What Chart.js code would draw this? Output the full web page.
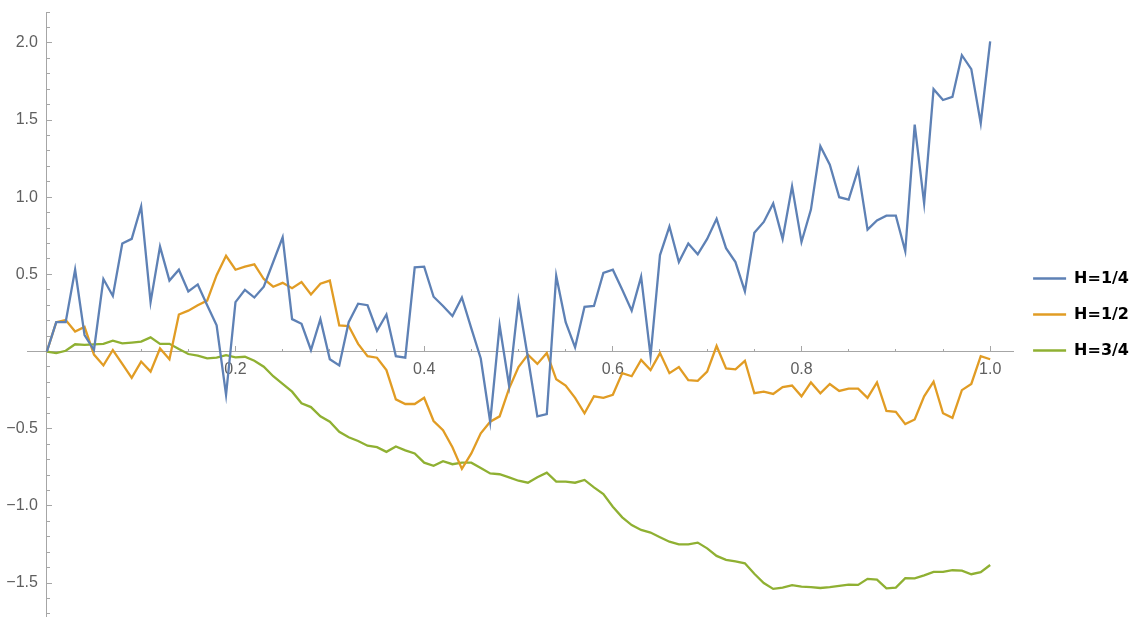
<!DOCTYPE html>
<html>
<head>
<meta charset="utf-8">
<script src="https://cdn.jsdelivr.net/npm/chart.js@4.4.0/dist/chart.umd.min.js"></script>
<style>
  html, body { margin: 0; padding: 0; background: #fff; }
  #wrap { width: 1145px; height: 617px; }
</style>
</head>
<body>
<div id="wrap"><canvas id="plot"></canvas></div>
<script>
// series names + Mathematica default colours
const seriesNames = ['H=1/4', 'H=1/2', 'H=3/4'];
const seriesColors = ['#5E81B5', '#E19C24', '#8FB032'];

// sample spacing on x (101 samples from 0 to 1)
const xStep = 0.01;

// values
const h14 = [0, 0.19, 0.19, 0.53, 0.107, 0.01, 0.47, 0.36, 0.70, 0.73, 0.94,
  0.32, 0.68, 0.46, 0.53, 0.39, 0.435, 0.30, 0.17, -0.28, 0.32,
  0.40, 0.35, 0.42, 0.58, 0.74, 0.21, 0.18, 0.01, 0.21, -0.05,
  -0.09, 0.19, 0.31, 0.30, 0.135, 0.24, -0.03, -0.04, 0.545, 0.55,
  0.355, 0.295, 0.23, 0.35, 0.15, -0.045, -0.455, 0.17, -0.22, 0.33,
  -0.04, -0.42, -0.405, 0.49, 0.19, 0.027, 0.29, 0.295, 0.51, 0.53,
  0.40, 0.265, 0.485, -0.03, 0.625, 0.81, 0.58, 0.70, 0.63, 0.73,
  0.86, 0.67, 0.58, 0.39, 0.77, 0.84, 0.96, 0.73, 1.07, 0.71,
  0.92, 1.33, 1.21, 1.00, 0.985, 1.18, 0.79, 0.85, 0.88, 0.88,
  0.65, 1.47, 0.96, 1.70, 1.63, 1.65, 1.92, 1.83, 1.48, 2.01];

const h12 = [0, 0.19, 0.204, 0.13, 0.16, -0.02, -0.09, 0.01, -0.08, -0.17, -0.065,
  -0.13, 0.02, -0.05, 0.24, 0.265, 0.30, 0.33, 0.495, 0.62, 0.53,
  0.55, 0.565, 0.47, 0.42, 0.445, 0.41, 0.45, 0.37, 0.44, 0.46,
  0.17, 0.165, 0.05, -0.03, -0.04, -0.12, -0.31, -0.34, -0.34, -0.30,
  -0.45, -0.51, -0.62, -0.76, -0.66, -0.53, -0.455, -0.42, -0.24, -0.10,
  -0.02, -0.08, -0.01, -0.18, -0.22, -0.30, -0.40, -0.29, -0.30, -0.28,
  -0.14, -0.16, -0.055, -0.12, -0.01, -0.14, -0.10, -0.185, -0.19, -0.13,
  0.036, -0.11, -0.115, -0.06, -0.27, -0.26, -0.275, -0.23, -0.22, -0.29,
  -0.20, -0.27, -0.21, -0.255, -0.24, -0.24, -0.30, -0.20, -0.385, -0.39,
  -0.47, -0.44, -0.29, -0.195, -0.40, -0.43, -0.25, -0.21, -0.03, -0.05];

const h34 = [0, -0.01, 0.005, 0.047, 0.043, 0.047, 0.05, 0.07, 0.053, 0.058, 0.064,
  0.092, 0.05, 0.05, 0.016, -0.016, -0.027, -0.044, -0.04, -0.023, -0.038,
  -0.034, -0.06, -0.098, -0.16, -0.21, -0.26, -0.335, -0.36, -0.42, -0.455,
  -0.52, -0.555, -0.58, -0.61, -0.62, -0.65, -0.615, -0.64, -0.66, -0.72,
  -0.74, -0.71, -0.73, -0.72, -0.72, -0.755, -0.79, -0.795, -0.815, -0.837,
  -0.85, -0.815, -0.785, -0.843, -0.843, -0.85, -0.832, -0.88, -0.923, -1.005,
  -1.074, -1.124, -1.156, -1.173, -1.203, -1.232, -1.249, -1.249, -1.238, -1.275,
  -1.324, -1.35, -1.36, -1.372, -1.44, -1.50, -1.538, -1.53, -1.514, -1.523,
  -1.527, -1.532, -1.527, -1.519, -1.51, -1.512, -1.473, -1.478, -1.534, -1.53,
  -1.469, -1.47, -1.45, -1.428, -1.428, -1.417, -1.42, -1.443, -1.43, -1.383];

// tick labels
const xMajorTicks = [0.2, 0.4, 0.6, 0.8, 1.0];
const xTickLabels = ['0.2', '0.4', '0.6', '0.8', '1.0'];
const yMajorTicks = [-1.5, -1.0, -0.5, 0.5, 1.0, 1.5, 2.0];
const yTickLabels = ['\u22121.5', '\u22121.0', '\u22120.5', '0.5', '1.0', '1.5', '2.0'];

// plot range (Mathematica pads a bit past the data)
const xMin = -0.021, xMax = 1.0243;
const yMin = -1.72, yMax = 2.2;

// minor ticks: every 0.05 on x, every 0.1 on y
const xMinorTicks = [];
for (let k = 1; k < 20; k++) {
    if (k % 4 !== 0) xMinorTicks.push(k * 0.05);
}
const yMinorTicks = [];
for (let k = -17; k <= 22; k++) {
    if (k !== 0 && k % 5 !== 0) yMinorTicks.push(k / 10);
}

const axisColor = '#a6a6a6';
const labelColor = '#5f5f5f';
const tickFont = { family: "'Liberation Sans', Arial, sans-serif", size: 16 };

const toPoints = (arr) => arr.map((y, i) => ({ x: i * xStep, y: y }));

const datasets = [h14, h12, h34].map((arr, i) => ({
    label: seriesNames[i],
    data: toPoints(arr),
    borderColor: seriesColors[i],
    backgroundColor: seriesColors[i],
    borderWidth: 2.3,
    pointRadius: 0,
    tension: 0,
    xAxisID: 'x',
    yAxisID: 'y',
}));

const noPad = (s) => {
    s.paddingTop = 0; s.paddingBottom = 0; s.paddingLeft = 0; s.paddingRight = 0;
};

const ctx = document.getElementById('plot').getContext('2d');
new Chart(ctx, {
    type: 'line',
    data: { datasets: datasets },
    options: {
        responsive: true,
        maintainAspectRatio: false,
        animation: false,
        layout: { padding: { left: 27, top: 12, right: 6, bottom: 0 } },
        scales: {
            x: {
                type: 'linear',
                min: xMin,
                max: xMax,
                position: { y: 0 },
                border: { color: axisColor, width: 1 },
                grid: { drawOnChartArea: false, drawTicks: true, tickLength: -6, tickColor: axisColor },
                ticks: {
                    padding: 14,
                    color: labelColor,
                    font: tickFont,
                    autoSkip: false,
                    maxRotation: 0,
                    callback: (v, i) => xTickLabels[i],
                },
                afterBuildTicks: (s) => { s.ticks = xMajorTicks.map(v => ({ value: v })); },
                afterFit: noPad,
            },
            xMinor: {
                type: 'linear',
                min: xMin,
                max: xMax,
                position: { y: 0 },
                border: { display: false },
                grid: { drawOnChartArea: false, drawTicks: true, tickLength: -3, tickColor: axisColor },
                ticks: { display: false },
                afterBuildTicks: (s) => { s.ticks = xMinorTicks.map(v => ({ value: v })); },
                afterFit: noPad,
            },
            y: {
                type: 'linear',
                min: yMin,
                max: yMax,
                position: { x: 0 },
                border: { color: axisColor, width: 1 },
                grid: { drawOnChartArea: false, drawTicks: true, tickLength: -6, tickColor: axisColor },
                ticks: {
                    color: labelColor,
                    font: tickFont,
                    autoSkip: false,
                    // labels sit right on the axis here, trailing spaces keep the gap
                    callback: (v, i) => yTickLabels[i] + '  ',
                },
                afterBuildTicks: (s) => { s.ticks = yMajorTicks.map(v => ({ value: v })); },
                afterFit: noPad,
            },
            yMinor: {
                type: 'linear',
                min: yMin,
                max: yMax,
                position: { x: 0 },
                border: { display: false },
                grid: { drawOnChartArea: false, drawTicks: true, tickLength: -3, tickColor: axisColor },
                ticks: { display: false },
                afterBuildTicks: (s) => { s.ticks = yMinorTicks.map(v => ({ value: v })); },
                afterFit: noPad,
            },
        },
        plugins: {
            legend: {
                position: 'right',
                labels: {
                    usePointStyle: true,
                    pointStyle: 'line',
                    pointStyleWidth: 33,
                    boxHeight: 16,
                    padding: 20,
                    color: '#000',
                    font: { family: "'DejaVu Sans', sans-serif", size: 16, weight: 'bold' },
                },
            },
            tooltip: { enabled: false },
        },
    },
});
</script>
</body>
</html>
